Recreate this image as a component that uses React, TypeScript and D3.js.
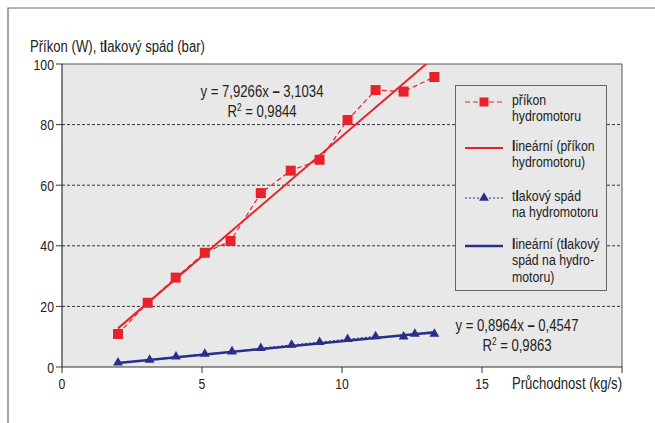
import React from 'react';
import * as d3 from 'd3';

// flow rate (kg/s) and measured values
const prikonX = [2.0, 3.06, 4.06, 5.1, 6.02, 7.1, 8.17, 9.2, 10.2, 11.2, 12.2, 13.3];
const prikonY = [10.9, 21.2, 29.5, 37.7, 41.6, 57.4, 64.8, 68.4, 81.5, 91.4, 90.9, 95.7];
const spadX = [2.0, 3.13, 4.07, 5.1, 6.07, 7.1, 8.2, 9.2, 10.2, 11.2, 12.2, 12.6, 13.3];
const spadY = [1.4, 2.3, 3.4, 4.3, 5.1, 6.2, 7.3, 8.2, 9.2, 10.1, 10.0, 10.9, 10.9];

// trend coefficients [slope, intercept]
const prikonTrend = [7.9266, -3.1034];
const spadTrend = [0.8964, -0.4547];

const xTicks = [0, 5, 10, 15, 20];
const xTickLabels = ['0', '5', '10', '15', ''];
const yTicks = [0, 20, 40, 60, 80, 100];

const RED = '#e8222b';
const BLUE = '#2b2d8c';
const FONT = "'Liberation Sans', Arial, sans-serif";

// "{l}" parts get bold, like the original print
const rich = (s: string) =>
  s.split(/\{(.*?)\}/).map((part, i) =>
    i % 2 ? <tspan key={i} fontWeight="bold">{part}</tspan> : <tspan key={i}>{part}</tspan>
  );

// narrow text: Liberation Sans squeezed horizontally (Arial Narrow look)
const Txt = ({ x, y, anchor = 'start', size = 15, children }: any) => (
  <g transform={`translate(${x},${y}) scale(0.82,1)`}>
    <text x={0} y={0} textAnchor={anchor} fontSize={size} fill="#222">{children}</text>
  </g>
);

const App = () => {
  const width = 655;
  const height = 423;
  const left = 62, right = 622, top = 64, bottom = 367;

  const x = d3.scaleLinear().domain([0, 20]).range([left, right]);
  const y = d3.scaleLinear().domain([0, 100]).range([bottom, top]);

  const line = d3.line<[number, number]>().x(d => x(d[0])).y(d => y(d[1]));
  const prikonPts = prikonX.map((v, i) => [v, prikonY[i]] as [number, number]);
  const spadPts = spadX.map((v, i) => [v, spadY[i]] as [number, number]);

  const trendPts = (xs: number[], c: number[]) => {
    const [a, b] = d3.extent(xs) as [number, number];
    return [[a, c[0] * a + c[1]], [b, c[0] * b + c[1]]] as [number, number][];
  };

  const tri = d3.symbol().type(d3.symbolTriangle).size(42)();

  const legend = [
    { lines: ['příkon', 'hydromotoru'], color: RED, dash: '5,3', width: 1.2, marker: 'sq', ly: 102 },
    { lines: ['{l}ineární (příkon', 'hydromotoru)'], color: RED, dash: null, width: 2, marker: null, ly: 148 },
    { lines: ['t{l}akový spád', 'na hydromotoru'], color: BLUE, dash: '2,2', width: 1, marker: 'tri', ly: 198 },
    { lines: ['{l}ineární (t{l}akový', 'spád na hydro-', 'motoru)'], color: BLUE, dash: null, width: 2.5, marker: null, ly: 246 },
  ];

  return (
    <svg width={width} height={height} style={{ position: 'absolute', left: 0, top: 0, background: '#fff' }}
      fontFamily={FONT}>
      <defs>
        <clipPath id="plot">
          <rect x={left} y={top} width={right - left} height={bottom - top} />
        </clipPath>
      </defs>

      {/* outer frame */}
      <path d={`M8,${height} V8 H${width}`} fill="none" stroke="#6a6a6a" strokeWidth={1.2} />

      <Txt x={30} y={52} size={16}>{rich('Příkon (W), t{l}akový spád (bar)')}</Txt>

      {/* plot area */}
      <rect x={left} y={top} width={right - left} height={bottom - top} fill="#e8e8e8" />
      {yTicks.filter(t => t > 0 && t < 100).map(t => (
        <line key={t} x1={left} x2={right} y1={y(t)} y2={y(t)} stroke="#333" strokeWidth={1} strokeDasharray="3,2" />
      ))}
      <path d={`M${left},${top} H${right} V${bottom}`} fill="none" stroke="#555" strokeWidth={1} />
      <line x1={left} x2={right} y1={bottom} y2={bottom} stroke="#333" strokeWidth={1.2} />
      <line x1={left} x2={left} y1={top} y2={bottom} stroke="#333" strokeWidth={1.2} />

      {yTicks.map(t => (
        <g key={t}>
          <line x1={left - 6} x2={left} y1={y(t)} y2={y(t)} stroke="#333" />
          <Txt x={left - 8} y={y(t) + 5.5} anchor="end">{t}</Txt>
        </g>
      ))}
      {xTicks.map((t, i) => (
        <g key={t}>
          <line x1={x(t)} x2={x(t)} y1={bottom} y2={bottom + 6} stroke="#333" />
          <Txt x={x(t)} y={bottom + 22} anchor="middle">{xTickLabels[i]}</Txt>
        </g>
      ))}
      <Txt x={right} y={bottom + 22} anchor="end" size={16}>Průchodnost (kg/s)</Txt>

      {/* legend (opaque, above grid) */}
      <rect x={455.5} y={85.5} width={151} height={205} fill="#e8e8e8" stroke="#666" strokeWidth={1} />
      {legend.map((l, i) => (
        <g key={i}>
          <line x1={465} x2={503} y1={l.ly} y2={l.ly} stroke={l.color} strokeWidth={l.width}
            strokeDasharray={l.dash || undefined} />
          {l.marker === 'sq' && <rect x={484 - 4.5} y={l.ly - 4.5} width={9} height={9} fill={RED} />}
          {l.marker === 'tri' && <path d={tri!} transform={`translate(484,${l.ly})`} fill={BLUE} />}
          <Txt x={512} y={l.ly + 2.5}>
            {l.lines.map((s, j) => (
              <tspan key={j} x={0} dy={j === 0 ? 0 : 17}>{rich(s)}</tspan>
            ))}
          </Txt>
        </g>
      ))}

      {/* series */}
      <g clipPath="url(#plot)">
        <path d={line(trendPts(prikonX, prikonTrend))!} fill="none" stroke={RED} strokeWidth={2} />
        <path d={line(prikonPts)!} fill="none" stroke={RED} strokeWidth={1.2} strokeDasharray="5,3" />
        {prikonPts.map((d, i) => (
          <rect key={i} x={x(d[0]) - 5} y={y(d[1]) - 5} width={10} height={10} fill={RED} />
        ))}
        <path d={line(trendPts(spadX, spadTrend))!} fill="none" stroke={BLUE} strokeWidth={2.5} />
        <path d={line(spadPts)!} fill="none" stroke={BLUE} strokeWidth={1} strokeDasharray="2,2" />
        {spadPts.map((d, i) => (
          <path key={i} d={tri!} transform={`translate(${x(d[0])},${y(d[1])})`} fill={BLUE} />
        ))}
      </g>

      {/* regression labels */}
      <Txt x={262} y={97} anchor="middle" size={16}>
        y = 7,9266x <tspan fontWeight="bold">–</tspan> 3,1034
      </Txt>
      <Txt x={262} y={117} anchor="middle" size={16}>
        R<tspan dy={-6} fontSize={10}>2</tspan><tspan dy={6}> = 0,9844</tspan>
      </Txt>
      <Txt x={517} y={331} anchor="middle" size={16}>
        y = 0,8964x <tspan fontWeight="bold">–</tspan> 0,4547
      </Txt>
      <Txt x={517} y={351} anchor="middle" size={16}>
        R<tspan dy={-6} fontSize={10}>2</tspan><tspan dy={6}> = 0,9863</tspan>
      </Txt>
    </svg>
  );
};

export default App;
